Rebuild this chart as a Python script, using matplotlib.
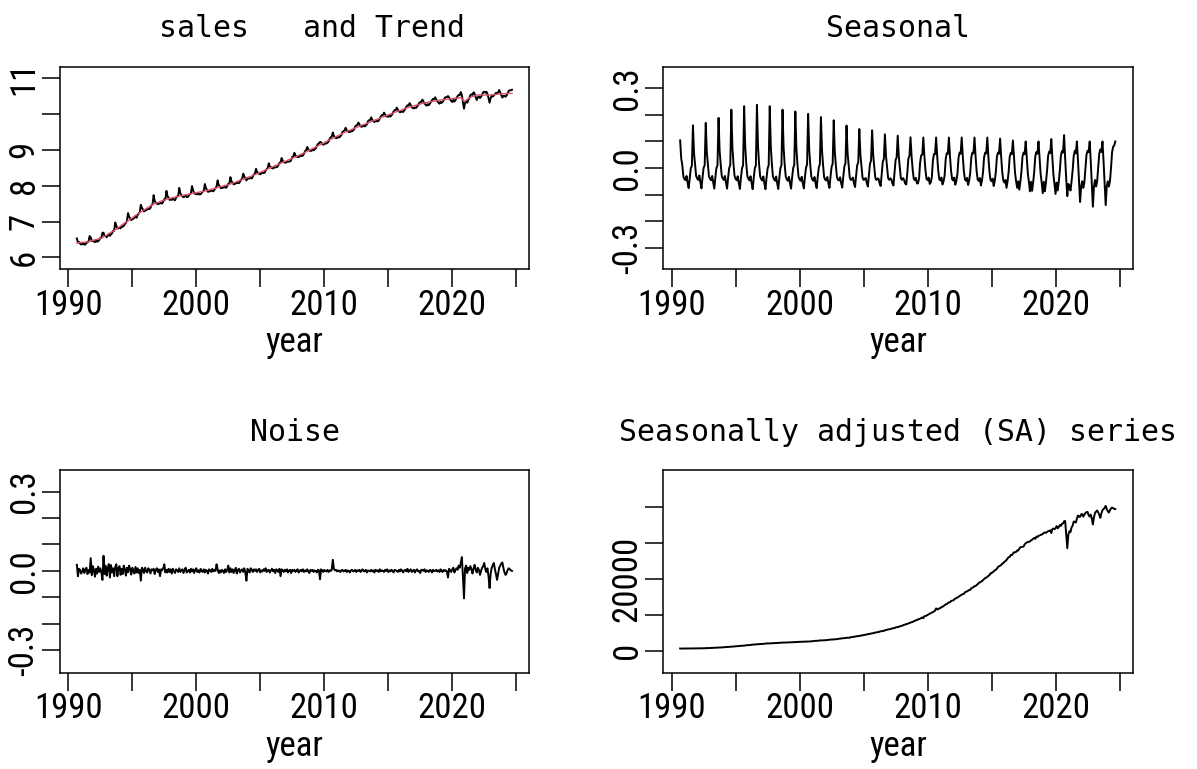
"""Decomposition panels: log sales with trend, seasonal, noise and SA series."""

import numpy as np
import matplotlib
matplotlib.use('Agg')
import matplotlib.pyplot as plt

plt.rcParams['font.family'] = ['Liberation Sans Narrow', 'Roboto Condensed', 'DejaVu Sans']
plt.rcParams['font.stretch'] = 'condensed'
TITLE_FONT = ['DejaVu Sans Mono', 'DejaVu Sans']

START_YEAR = 1990 + 8 / 12  # monthly, first point Sep 1990

# log trend, one row per Sep..Aug year
TREND_ROWS = [
    [6.40, 6.40, 6.41, 6.41, 6.41, 6.42, 6.42, 6.42, 6.43, 6.43, 6.43, 6.44],
    [6.44, 6.45, 6.46, 6.47, 6.48, 6.49, 6.50, 6.50, 6.51, 6.52, 6.53, 6.54],
    [6.55, 6.57, 6.59, 6.60, 6.62, 6.64, 6.66, 6.68, 6.70, 6.71, 6.73, 6.75],
    [6.77, 6.79, 6.81, 6.83, 6.85, 6.87, 6.90, 6.92, 6.94, 6.96, 6.98, 7.00],
    [7.02, 7.04, 7.06, 7.08, 7.10, 7.12, 7.15, 7.17, 7.19, 7.21, 7.23, 7.25],
    [7.27, 7.29, 7.31, 7.32, 7.34, 7.36, 7.38, 7.40, 7.42, 7.43, 7.45, 7.47],
    [7.49, 7.50, 7.51, 7.52, 7.53, 7.54, 7.56, 7.57, 7.58, 7.59, 7.60, 7.61],
    [7.62, 7.63, 7.64, 7.64, 7.65, 7.66, 7.67, 7.67, 7.68, 7.69, 7.70, 7.70],
    [7.71, 7.72, 7.72, 7.73, 7.73, 7.74, 7.75, 7.75, 7.76, 7.76, 7.77, 7.77],
    [7.78, 7.79, 7.79, 7.80, 7.80, 7.81, 7.82, 7.82, 7.83, 7.83, 7.84, 7.84],
    [7.85, 7.86, 7.87, 7.87, 7.88, 7.89, 7.90, 7.91, 7.92, 7.92, 7.93, 7.94],
    [7.95, 7.96, 7.97, 7.97, 7.98, 7.99, 8.00, 8.01, 8.02, 8.02, 8.03, 8.04],
    [8.05, 8.06, 8.07, 8.08, 8.09, 8.10, 8.12, 8.13, 8.14, 8.15, 8.16, 8.17],
    [8.18, 8.19, 8.20, 8.22, 8.23, 8.24, 8.25, 8.26, 8.27, 8.29, 8.30, 8.31],
    [8.32, 8.33, 8.35, 8.36, 8.37, 8.39, 8.40, 8.41, 8.43, 8.44, 8.45, 8.47],
    [8.48, 8.49, 8.51, 8.52, 8.53, 8.55, 8.56, 8.57, 8.59, 8.60, 8.61, 8.63],
    [8.64, 8.65, 8.67, 8.68, 8.69, 8.70, 8.72, 8.73, 8.74, 8.75, 8.77, 8.78],
    [8.79, 8.80, 8.82, 8.83, 8.85, 8.86, 8.88, 8.89, 8.90, 8.92, 8.93, 8.95],
    [8.96, 8.98, 8.99, 9.01, 9.02, 9.04, 9.05, 9.07, 9.08, 9.10, 9.11, 9.13],
    [9.14, 9.16, 9.17, 9.19, 9.20, 9.22, 9.24, 9.25, 9.27, 9.28, 9.30, 9.31],
    [9.33, 9.34, 9.35, 9.37, 9.38, 9.40, 9.41, 9.43, 9.44, 9.46, 9.47, 9.49],
    [9.50, 9.51, 9.53, 9.54, 9.55, 9.56, 9.58, 9.59, 9.60, 9.61, 9.63, 9.64],
    [9.65, 9.66, 9.67, 9.69, 9.70, 9.71, 9.72, 9.73, 9.74, 9.76, 9.77, 9.78],
    [9.79, 9.80, 9.81, 9.83, 9.84, 9.85, 9.86, 9.87, 9.88, 9.90, 9.91, 9.92],
    [9.93, 9.94, 9.95, 9.97, 9.98, 9.99, 10.00, 10.01, 10.02, 10.04, 10.05, 10.06],
    [10.07, 10.08, 10.09, 10.10, 10.11, 10.12, 10.14, 10.15, 10.16, 10.17, 10.18, 10.19],
    [10.20, 10.21, 10.22, 10.22, 10.23, 10.24, 10.25, 10.26, 10.27, 10.27, 10.28, 10.29],
    [10.30, 10.31, 10.31, 10.32, 10.32, 10.33, 10.34, 10.34, 10.35, 10.35, 10.36, 10.36],
    [10.37, 10.37, 10.38, 10.38, 10.39, 10.39, 10.40, 10.40, 10.40, 10.41, 10.41, 10.42],
    [10.42, 10.42, 10.43, 10.43, 10.43, 10.44, 10.44, 10.44, 10.45, 10.45, 10.45, 10.46],
    [10.46, 10.44, 10.40, 10.36, 10.37, 10.39, 10.41, 10.43, 10.45, 10.47, 10.48, 10.49],
    [10.50, 10.51, 10.52, 10.53, 10.53, 10.54, 10.54, 10.54, 10.54, 10.54, 10.53, 10.53],
    [10.53, 10.53, 10.53, 10.53, 10.53, 10.54, 10.54, 10.54, 10.55, 10.55, 10.55, 10.56],
    [10.56, 10.56, 10.56, 10.57, 10.57, 10.57, 10.57, 10.58, 10.58, 10.58, 10.58, 10.58],
    [10.58],
]

SEASONAL_ROWS = [
    [0.104, 0.036, 0.012, -0.032, -0.042, -0.046, -0.030, -0.056, -0.076, -0.036, 0.000, 0.008],
    [0.161, 0.056, 0.015, -0.030, -0.040, -0.045, -0.028, -0.054, -0.077, -0.035, 0.001, 0.010],
    [0.170, 0.060, 0.014, -0.031, -0.041, -0.046, -0.030, -0.055, -0.078, -0.036, 0.000, 0.010],
    [0.189, 0.066, 0.015, -0.030, -0.040, -0.045, -0.030, -0.056, -0.078, -0.035, 0.000, 0.011],
    [0.220, 0.077, 0.016, -0.030, -0.041, -0.046, -0.031, -0.057, -0.079, -0.036, -0.001, 0.010],
    [0.233, 0.082, 0.016, -0.031, -0.041, -0.047, -0.031, -0.057, -0.080, -0.037, -0.001, 0.010],
    [0.238, 0.083, 0.015, -0.031, -0.042, -0.047, -0.032, -0.058, -0.080, -0.037, -0.002, 0.010],
    [0.233, 0.082, 0.015, -0.032, -0.042, -0.048, -0.032, -0.058, -0.079, -0.036, -0.001, 0.011],
    [0.220, 0.077, 0.014, -0.032, -0.043, -0.048, -0.033, -0.058, -0.078, -0.035, 0.000, 0.012],
    [0.213, 0.075, 0.013, -0.033, -0.043, -0.048, -0.033, -0.058, -0.077, -0.034, 0.001, 0.013],
    [0.204, 0.071, 0.012, -0.033, -0.044, -0.048, -0.034, -0.058, -0.076, -0.033, 0.002, 0.014],
    [0.192, 0.067, 0.011, -0.034, -0.044, -0.047, -0.034, -0.058, -0.075, -0.032, 0.004, 0.016],
    [0.180, 0.063, 0.010, -0.034, -0.045, -0.047, -0.035, -0.058, -0.074, -0.031, 0.006, 0.018],
    [0.160, 0.056, 0.008, -0.035, -0.045, -0.044, -0.036, -0.057, -0.072, -0.028, 0.010, 0.022],
    [0.147, 0.051, 0.006, -0.036, -0.045, -0.042, -0.038, -0.057, -0.070, -0.025, 0.016, 0.028],
    [0.142, 0.050, 0.004, -0.037, -0.045, -0.040, -0.040, -0.058, -0.068, -0.022, 0.024, 0.034],
    [0.127, 0.046, 0.002, -0.038, -0.045, -0.039, -0.042, -0.058, -0.066, -0.020, 0.030, 0.040],
    [0.122, 0.045, 0.000, -0.039, -0.045, -0.038, -0.045, -0.059, -0.062, -0.018, 0.035, 0.046],
    [0.116, 0.044, -0.005, -0.040, -0.046, -0.037, -0.058, -0.058, -0.040, 0.020, 0.048, 0.050],
    [0.115, 0.045, -0.008, -0.041, -0.046, -0.036, -0.060, -0.054, -0.034, 0.028, 0.053, 0.052],
    [0.115, 0.045, -0.010, -0.042, -0.047, -0.036, -0.062, -0.050, -0.028, 0.034, 0.056, 0.053],
    [0.115, 0.045, -0.010, -0.042, -0.047, -0.036, -0.063, -0.048, -0.022, 0.038, 0.058, 0.054],
    [0.115, 0.045, -0.011, -0.043, -0.048, -0.037, -0.064, -0.047, -0.018, 0.040, 0.058, 0.055],
    [0.115, 0.044, -0.012, -0.044, -0.049, -0.038, -0.066, -0.047, -0.016, 0.041, 0.058, 0.055],
    [0.115, 0.043, -0.013, -0.045, -0.050, -0.040, -0.068, -0.048, -0.015, 0.042, 0.058, 0.054],
    [0.111, 0.042, -0.015, -0.047, -0.055, -0.045, -0.075, -0.050, -0.015, 0.042, 0.057, 0.052],
    [0.104, 0.040, -0.018, -0.050, -0.075, -0.050, -0.082, -0.052, -0.014, 0.043, 0.058, 0.052],
    [0.100, 0.038, -0.020, -0.052, -0.088, -0.052, -0.086, -0.054, -0.014, 0.044, 0.060, 0.054],
    [0.100, 0.038, -0.022, -0.055, -0.095, -0.052, -0.088, -0.054, -0.012, 0.045, 0.062, 0.056],
    [0.109, 0.038, -0.025, -0.060, -0.098, -0.055, -0.085, -0.052, -0.010, 0.046, 0.064, 0.058],
    [0.124, 0.035, -0.040, -0.106, -0.060, -0.070, -0.085, -0.050, -0.010, 0.045, 0.065, 0.055],
    [0.100, 0.030, -0.050, -0.128, -0.070, -0.050, -0.075, -0.055, -0.005, 0.050, 0.065, 0.060],
    [0.100, 0.025, -0.060, -0.146, -0.070, -0.045, -0.070, -0.050, 0.000, 0.055, 0.070, 0.060],
    [0.100, 0.025, -0.060, -0.140, -0.070, -0.050, -0.070, -0.050, 0.000, 0.060, 0.080, 0.085],
    [0.100],
]

NOISE_ROWS = [
    [0.023, -0.020, 0.008, 0.004, -0.010, -0.002, 0.010, -0.008, 0.004, 0.012, -0.012, 0.003],
    [-0.006, 0.048, -0.016, 0.018, 0.004, -0.022, 0.008, -0.010, 0.016, -0.004, 0.010, -0.005],
    [-0.034, 0.057, -0.012, 0.020, -0.018, 0.012, 0.026, -0.025, 0.022, -0.006, 0.010, -0.020],
    [0.015, 0.025, -0.020, 0.010, 0.018, -0.015, 0.008, -0.012, 0.020, 0.005, -0.018, 0.012],
    [-0.005, 0.020, 0.006, -0.014, 0.012, 0.000, -0.010, 0.015, -0.006, 0.010, -0.008, 0.004],
    [-0.037, 0.012, 0.006, -0.008, 0.012, 0.000, -0.006, 0.010, 0.004, -0.010, 0.006, 0.002],
    [0.008, -0.012, 0.004, 0.010, -0.004, 0.006, -0.020, 0.006, 0.002, 0.010, 0.025, -0.006],
    [0.004, -0.006, 0.008, -0.004, 0.006, -0.010, 0.008, 0.000, -0.008, 0.006, 0.002, -0.004],
    [0.010, -0.004, 0.002, 0.006, -0.008, 0.004, 0.012, -0.006, 0.000, 0.004, -0.006, 0.008],
    [-0.002, 0.006, -0.008, 0.004, 0.010, -0.004, 0.002, -0.006, 0.008, 0.000, -0.004, 0.006],
    [-0.006, 0.004, 0.000, -0.010, 0.006, 0.002, -0.004, 0.008, -0.002, 0.004, 0.000, 0.025],
    [0.006, -0.008, 0.002, -0.006, 0.004, 0.000, -0.008, 0.006, -0.004, 0.004, 0.020, -0.006],
    [0.010, -0.004, 0.006, -0.008, 0.002, 0.012, -0.010, 0.004, 0.008, -0.006, 0.002, 0.006],
    [-0.004, 0.010, -0.006, -0.037, 0.008, 0.002, -0.006, 0.010, 0.004, -0.004, 0.006, 0.000],
    [0.006, -0.004, 0.004, 0.008, -0.006, 0.002, -0.002, 0.006, 0.000, 0.010, -0.004, 0.002],
    [0.004, -0.006, 0.002, 0.008, -0.002, 0.004, -0.008, 0.006, 0.002, -0.004, 0.008, -0.020],
    [0.006, 0.002, -0.004, 0.004, -0.002, 0.006, -0.006, 0.002, 0.004, -0.008, 0.004, 0.000],
    [0.004, -0.004, 0.002, 0.006, -0.006, 0.000, 0.004, -0.002, 0.006, -0.004, 0.002, -0.002],
    [0.006, -0.002, -0.008, 0.004, 0.000, 0.004, -0.004, 0.002, 0.000, -0.006, 0.004, 0.002],
    [-0.032, 0.006, 0.002, -0.004, 0.004, 0.000, -0.002, 0.004, -0.004, 0.002, 0.000, 0.004],
    [0.042, 0.008, 0.002, 0.004, -0.002, 0.002, 0.000, -0.004, 0.002, 0.004, -0.002, 0.000],
    [0.004, -0.004, 0.002, 0.000, -0.006, 0.002, 0.004, -0.002, 0.000, 0.004, -0.004, 0.002],
    [0.000, 0.004, -0.004, 0.002, 0.006, -0.002, 0.000, 0.004, -0.006, 0.002, 0.000, -0.002],
    [0.004, -0.002, 0.002, -0.006, 0.004, 0.000, 0.002, -0.004, 0.006, -0.002, 0.002, 0.000],
    [-0.004, 0.004, 0.000, 0.006, -0.004, 0.002, -0.002, 0.004, 0.000, -0.006, 0.004, 0.002],
    [0.000, -0.004, 0.004, -0.002, 0.006, 0.000, -0.006, 0.002, 0.004, -0.002, 0.008, -0.004],
    [0.002, 0.006, -0.004, 0.000, 0.004, -0.006, 0.002, 0.006, -0.002, 0.000, -0.008, 0.004],
    [0.004, 0.000, 0.006, -0.004, 0.002, 0.000, -0.004, 0.004, 0.002, -0.006, 0.004, 0.000],
    [0.000, 0.004, -0.002, 0.002, -0.004, 0.006, 0.000, -0.004, 0.004, 0.000, 0.002, -0.002],
    [-0.025, 0.008, 0.002, -0.004, 0.006, 0.012, -0.006, 0.004, 0.010, 0.004, 0.020, 0.012],
    [0.030, 0.052, -0.020, -0.104, 0.010, 0.020, -0.008, 0.012, 0.004, 0.018, 0.006, -0.010],
    [0.010, 0.023, 0.004, -0.006, 0.012, 0.004, -0.015, 0.000, 0.012, 0.018, 0.030, 0.006],
    [-0.004, 0.010, -0.020, -0.065, -0.010, 0.012, 0.022, 0.030, 0.006, -0.012, -0.034, -0.010],
    [0.012, 0.020, 0.028, 0.032, 0.010, -0.006, -0.015, -0.008, 0.004, 0.010, 0.006, 0.002],
    [0.000],
]

XTICKS = [1990, 1995, 2000, 2005, 2010, 2015, 2020, 2025]
XTICK_LABELS = ['1990', '', '2000', '', '2010', '', '2020', '']
LOG_TICKS = [6, 7, 8, 9, 10, 11]
LOG_TICK_LABELS = ['6', '7', '8', '9', '', '11']
COMP_TICKS = [-0.3, -0.2, -0.1, 0.0, 0.1, 0.2, 0.3]
COMP_TICK_LABELS = ['-0.3', '', '', '0.0', '', '', '0.3']
SA_TICKS = [0, 10000, 20000, 30000, 40000]
SA_TICK_LABELS = ['0', '', '20000', '', '']
TITLES = ['sales   and Trend', 'Seasonal', 'Noise', 'Seasonally adjusted (SA) series']


def flat(rows):
    return np.array([v for r in rows for v in r])


trend = flat(TREND_ROWS)
seasonal = flat(SEASONAL_ROWS)
noise = flat(NOISE_ROWS)
sales = trend + seasonal + noise          # log sales = T + S + I
sa = np.exp(trend + noise)                # seasonally adjusted level
years = START_YEAR + np.arange(len(trend)) / 12

W, H = 1197, 769


def box(x0, y0, x1, y1):
    return [x0 / W, 1 - y1 / H, (x1 - x0) / W, (y1 - y0) / H]


def style(ax, ylim, yticks, ylabels):
    ax.set_xlim(1989.35, 2026.02)
    ax.set_ylim(*ylim)
    ax.set_xticks(XTICKS)
    ax.set_xticklabels(XTICK_LABELS)
    ax.set_yticks(yticks)
    ax.set_yticklabels(ylabels, rotation=90, va='center')
    ax.tick_params(axis='both', length=13, width=1.1, labelsize=25, direction='out')
    ax.tick_params(axis='x', pad=1)
    ax.tick_params(axis='y', pad=1)
    for sp in ax.spines.values():
        sp.set_linewidth(1.1)
    ax.set_xlabel('year', fontsize=25)
    ax.xaxis.set_label_coords(0.5, -0.41)
    ax.xaxis.label.set_va('baseline')


fig = plt.figure(figsize=(W / 100, H / 100), dpi=100)
ax1 = fig.add_axes(box(60, 66.7, 529.3, 269.3))
ax2 = fig.add_axes(box(663.3, 66.7, 1132.6, 269.3))
ax3 = fig.add_axes(box(60, 470, 529.3, 672.6))
ax4 = fig.add_axes(box(663.3, 470, 1132.6, 672.6))

ax1.plot(years, sales, color='black', lw=1.4)
ax1.plot(years, trend, color='#DF536B', lw=1.0)
style(ax1, (5.665, 11.324), LOG_TICKS, LOG_TICK_LABELS)

ax2.plot(years, seasonal, color='black', lw=1.4)
style(ax2, (-0.382, 0.382), COMP_TICKS, COMP_TICK_LABELS)

ax3.plot(years, noise, color='black', lw=1.4)
style(ax3, (-0.385, 0.382), COMP_TICKS, COMP_TICK_LABELS)

ax4.plot(years, sa, color='black', lw=1.4)
style(ax4, (-6080, 50190), SA_TICKS, SA_TICK_LABELS)

title_x = [0.537, 0.5, 0.5, 0.5]
for ax, title, tx in zip([ax1, ax2, ax3, ax4], TITLES, title_x):
    ax.text(tx, 1.145, title, transform=ax.transAxes, ha='center', va='baseline',
            fontsize=21.5, family=TITLE_FONT)

fig.savefig('out.png', dpi=100, facecolor='white')
